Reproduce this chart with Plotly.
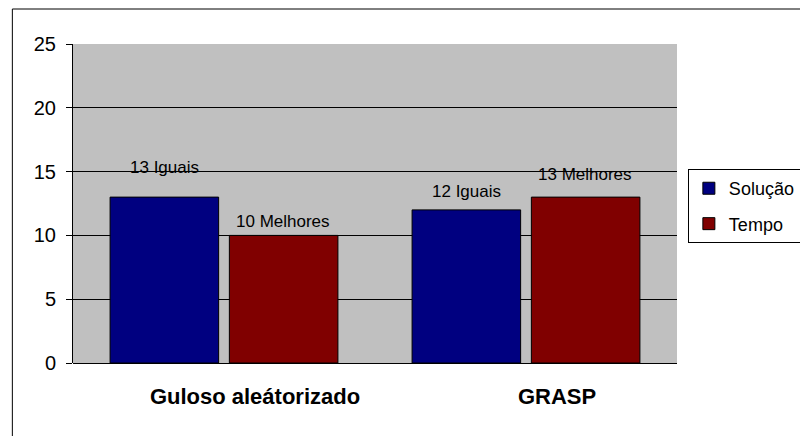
import plotly.graph_objects as go

categories = ["Guloso aleátorizado", "GRASP"]
solucao = [13, 12]
tempo = [10, 13]
solucao_labels = ["13 Iguais", "12 Iguais"]
tempo_labels = ["10 Melhores", "13 Melhores"]
y_ticks = [0, 5, 10, 15, 20, 25]

FONT = "Liberation Sans, Arial, sans-serif"

fig = go.Figure()
fig.add_trace(go.Bar(
    name="Solução", x=categories, y=solucao,
    marker=dict(color="#000080", line=dict(color="black", width=1)),
    legendgroup="a",
))
fig.add_trace(go.Bar(
    name="Tempo", x=categories, y=tempo,
    marker=dict(color="#800000", line=dict(color="black", width=1)),
    legendgroup="b",
))

# value captions above each bar
label_shift_sol = [30, 18]
label_shift_tmp = [14, 23]
for i, cat in enumerate(categories):
    fig.add_annotation(x=cat, y=solucao[i], text=solucao_labels[i], xshift=-60,
                       yshift=label_shift_sol[i], showarrow=False, yanchor="middle",
                       font=dict(family=FONT, size=17, color="black"))
    fig.add_annotation(x=cat, y=tempo[i], text=tempo_labels[i], xshift=59,
                       yshift=label_shift_tmp[i], showarrow=False, yanchor="middle",
                       font=dict(family=FONT, size=17, color="black"))

# outer chart frame
fig.add_shape(type="rect", xref="paper", yref="paper",
              x0=-0.1004, x1=1.25, y0=-0.25, y1=1.1097,
              line=dict(color="black", width=1), fillcolor="rgba(0,0,0,0)", layer="below")

fig.update_layout(
    width=800, height=436,
    margin=dict(l=73, r=123, t=44, b=73, autoexpand=False),
    paper_bgcolor="white",
    plot_bgcolor="#C0C0C0",
    barmode="group",
    bargap=0.21,
    bargroupgap=0.09,
    font=dict(family=FONT, color="black"),
    showlegend=True,
    legend=dict(
        x=1.018, y=0.608, xanchor="left", yanchor="top",
        bgcolor="white", bordercolor="black", borderwidth=1,
        font=dict(family=FONT, size=18, color="black"),
        tracegroupgap=9,
    ),
    xaxis=dict(
        showgrid=False, showline=False, ticks="",
        tickfont=dict(family=FONT, size=22, color="black", weight="bold"),
        ticklabelshift=31, ticklabelstandoff=18,
    ),
    yaxis=dict(
        range=[0, 25], tickvals=y_ticks,
        showgrid=True, gridcolor="black", gridwidth=1,
        zeroline=True, zerolinecolor="black", zerolinewidth=1,
        showline=True, linecolor="black", linewidth=1,
        ticks="outside", ticklen=6, tickcolor="black",
        tickfont=dict(family=FONT, size=20, color="black"),
        ticklabelstandoff=6,
    ),
)

fig.write_html("out.html")
